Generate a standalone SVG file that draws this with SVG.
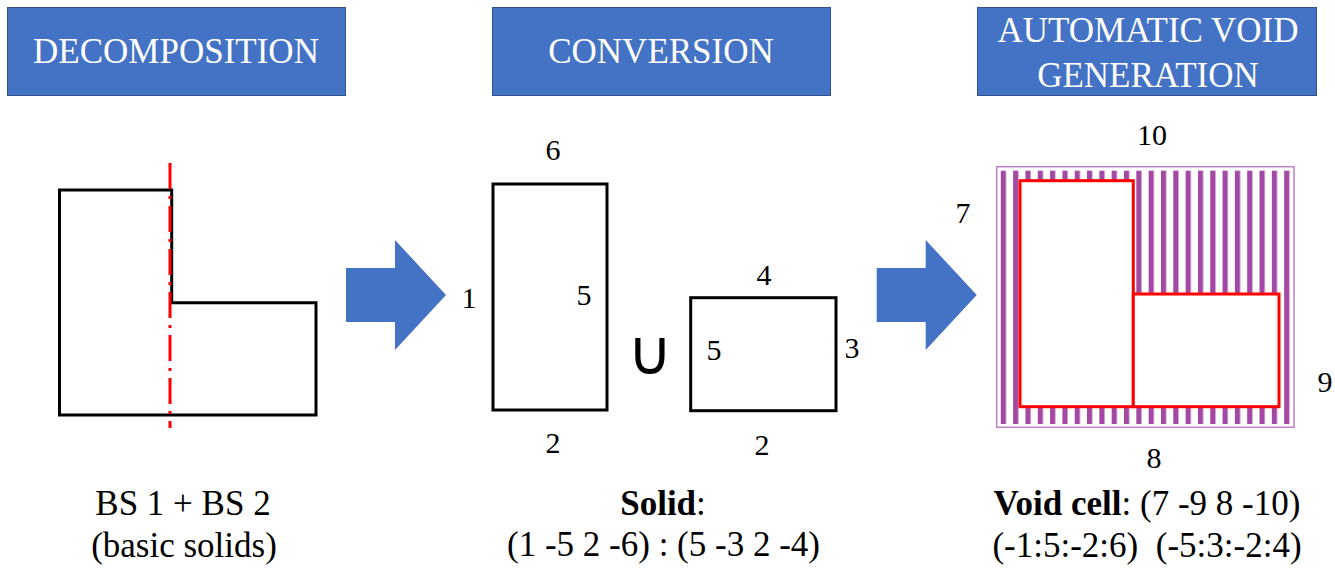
<svg xmlns="http://www.w3.org/2000/svg" width="1335" height="568" viewBox="0 0 1335 568">
<style>
.hdr{fill:#4472C4;stroke:#2F528F;stroke-width:1}
.ht{font-family:'Liberation Serif','Times New Roman','DejaVu Serif',serif;font-size:35px;fill:#fff;text-anchor:middle}
.t{font-family:'Liberation Serif','Times New Roman','DejaVu Serif',serif;font-size:35px;fill:#000;text-anchor:middle}
.n{font-family:'Liberation Serif','Times New Roman','DejaVu Serif',serif;font-size:30px;fill:#000;text-anchor:middle}
.blk{fill:#fff;stroke:#000;stroke-width:3}
.red{fill:#fff;stroke:#FF0000;stroke-width:3}
.arr{fill:#4472C4}
</style>
<defs>
<pattern id="stripes" patternUnits="userSpaceOnUse" x="1000.8" y="0" width="12.32" height="10">
<rect x="0" y="0" width="5.2" height="10" fill="#A349A4"/>
</pattern>
</defs>
<rect width="1335" height="568" fill="#fff"/>

<g id="hdr-decomposition">
<rect class="hdr" x="7.5" y="7.5" width="338" height="88"/>
<text class="ht" x="176" y="63" font-family="Liberation Serif, serif">DECOMPOSITION</text>
</g>
<g id="hdr-conversion">
<rect class="hdr" x="492.5" y="7.5" width="338" height="88"/>
<text class="ht" x="661" y="63">CONVERSION</text>
</g>
<g id="hdr-void">
<rect class="hdr" x="977.5" y="7.5" width="339" height="88"/>
<text class="ht" x="1148" y="42">AUTOMATIC VOID</text>
<text class="ht" x="1148" y="87">GENERATION</text>
</g>

<g id="lshape">
<path class="blk" d="M59.5,190 H171.7 V302.7 H316 V415 H59.5 Z"/>
<line x1="170" y1="163" x2="170" y2="428" stroke="#FF0000" stroke-width="3" stroke-dasharray="26 7 3 7"/>
<text class="t" x="183" y="515">BS 1 + BS 2</text>
<text class="t" x="184" y="557">(basic solids)</text>
</g>

<g id="connectors">
<polygon class="arr" points="346,268 395,268 395,240 446,295 395,350 395,322 346,322"/>
<polygon class="arr" points="876.7,268 925.7,268 925.7,240 976.7,295 925.7,350 925.7,322 876.7,322"/>
</g>

<g id="bs1">
<rect class="blk" x="493" y="184" width="114" height="226"/>
<text class="n" x="553" y="160">6</text>
<text class="n" x="469" y="308">1</text>
<text class="n" x="584" y="305">5</text>
<text class="n" x="553" y="453">2</text>
</g>
<g id="union">
<text x="650" y="374" font-family="DejaVu Sans, sans-serif" font-size="62" text-anchor="middle" fill="#000">∪</text>
</g>
<g id="bs2">
<rect class="blk" x="690.7" y="297.7" width="145.3" height="113"/>
<text class="n" x="764" y="285">4</text>
<text class="n" x="714" y="360">5</text>
<text class="n" x="852" y="358">3</text>
<text class="n" x="762" y="455">2</text>
</g>
<g id="solid-label">
<text class="t" x="663" y="515"><tspan font-weight="bold">Solid</tspan>:</text>
<text class="t" x="663.5" y="556">(1 -5 2 -6) : (5 -3 2 -4)</text>
</g>

<g id="void">
<rect x="996.7" y="166.7" width="297.3" height="260.6" fill="#fff" stroke="#C080C8" stroke-width="1.5"/>
<rect x="1000" y="170.7" width="291" height="253.3" fill="url(#stripes)"/>
<rect class="red" x="1020" y="180.7" width="113.3" height="226"/>
<rect class="red" x="1133.3" y="294" width="145.7" height="112.7"/>
<text class="n" x="1152" y="145">10</text>
<text class="n" x="963" y="223">7</text>
<text class="n" x="1325" y="392">9</text>
<text class="n" x="1154" y="468">8</text>
</g>
<g id="void-label">
<text class="t" x="1147" y="515"><tspan font-weight="bold">Void cell</tspan>: (7 -9 8 -10)</text>
<text class="t" x="1147" y="557">(-1:5:-2:6)&#160; (-5:3:-2:4)</text>
</g>
</svg>
